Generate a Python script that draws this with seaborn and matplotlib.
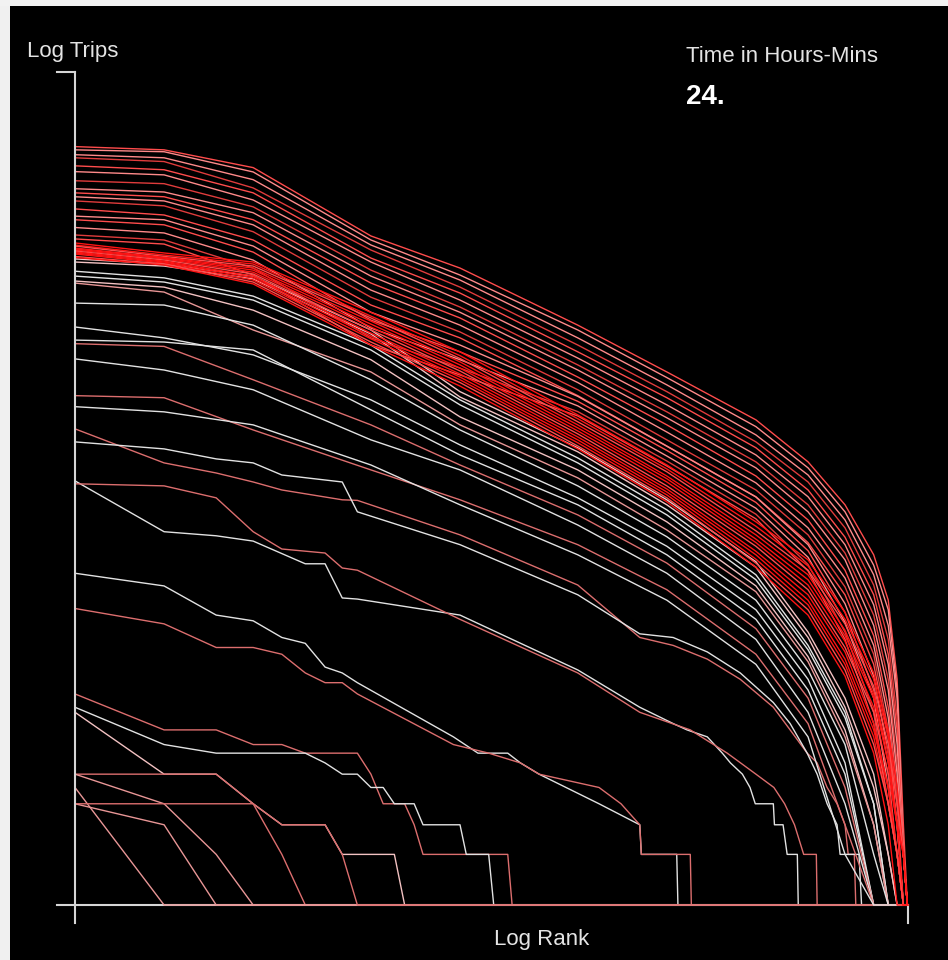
import numpy as np
import pandas as pd
import matplotlib
matplotlib.use("Agg")
import matplotlib.pyplot as plt
import seaborn as sns
from matplotlib.patches import Rectangle

# Zone ranks shared by the busy intervals (zones sorted by trip count)
RANKS = [1, 2, 4, 10, 20, 50, 100, 200, 300, 400, 500, 560, 600, 630, 650]

# Daytime peak intervals: trips per zone at each rank in RANKS
peak_trips = [
    [32400, 31000, 24300, 9530, 6140, 2810, 1480, 768, 432, 240, 121, 65, 22, 3, 1],
    [31000, 30200, 22900, 9020, 5580, 2630, 1370, 700, 398, 218, 105, 57, 19, 2, 1],
    [29000, 27800, 20600, 8420, 5210, 2360, 1240, 625, 361, 195, 92, 46, 17, 2, 1],
    [27800, 26400, 18400, 7860, 4730, 2140, 1130, 568, 328, 175, 80, 38, 13, 2, 1],
    [24900, 23600, 17200, 7040, 4360, 1950, 1040, 524, 294, 154, 70, 31, 11, 2, 1],
    [23000, 22000, 15600, 6670, 3960, 1790, 943, 475, 268, 139, 61, 27, 9, 2, 1],
    [20300, 19500, 14200, 5970, 3600, 1630, 857, 432, 240, 124, 53, 22, 7, 2, 1],
    [18200, 17400, 13100, 5500, 3350, 1520, 790, 398, 218, 113, 46, 19, 6, 2, 1],
    [17200, 16300, 11900, 5000, 3100, 1380, 717, 356, 195, 98, 40, 15, 5, 2, 1],
    [16300, 15400, 11100, 4540, 2810, 1280, 650, 324, 175, 88, 35, 13, 4, 2, 1],
    [15400, 14400, 10100, 4120, 2560, 1160, 584, 294, 159, 78, 31, 11, 4, 1, 1],
    [13800, 12700, 9020, 3700, 2360, 1070, 537, 268, 143, 70, 27, 10, 3, 1, 1],
    [12500, 11900, 8300, 3350, 2140, 1060, 535, 267, 139, 62, 23, 8, 3, 1, 1],
    [11900, 11100, 7640, 3010, 1950, 990, 505, 248, 128, 55, 19, 7, 3, 1, 1],
    [10700, 9930, 6850, 2700, 1750, 930, 468, 229, 117, 48, 17, 5, 2, 1, 1],
    [9660, 9020, 6140, 2360, 1560, 860, 437, 211, 106, 42, 14, 4, 2, 1, 1],
    [9150, 8530, 5580, 2140, 1420, 810, 408, 198, 97, 38, 12, 4, 2, 1, 1],
]
peak_tones = ["scarlet", "rose", "rose", "crimson", "scarlet", "rose",
              "crimson", "rose", "scarlet", "rose", "crimson", "scarlet",
              "rose", "scarlet", "rose", "crimson", "scarlet"]

# Evening intervals, closely bunched
evening_trips = [
    [8660, 7550, 6670, 3350, 1950, 822, 414, 190, 113, 55, 24, 11, 5, 2, 1],
    [8420, 7340, 6490, 3180, 1850, 780, 392, 179, 104, 50, 22, 10, 4, 2, 1],
    [8300, 7200, 6310, 3100, 1780, 748, 377, 168, 98, 47, 20, 9, 4, 2, 1],
    [8080, 7100, 6140, 2970, 1700, 717, 356, 159, 92, 43, 18, 8, 3, 2, 1],
    [7970, 7040, 5970, 2850, 1630, 688, 343, 150, 86, 40, 17, 7, 3, 2, 1],
    [7860, 6960, 5800, 2740, 1560, 660, 328, 143, 80, 37, 15, 6, 3, 1, 1],
    [7750, 6850, 5660, 2630, 1500, 634, 311, 136, 75, 34, 14, 6, 2, 1, 1],
    [7650, 6750, 5500, 2520, 1440, 608, 298, 127, 70, 32, 12, 5, 2, 1, 1],
    [7550, 6670, 5370, 2420, 1380, 584, 286, 121, 65, 29, 11, 5, 2, 1, 1],
    [7440, 6580, 5210, 2330, 1330, 561, 275, 114, 61, 27, 10, 4, 2, 1, 1],
    [7200, 6490, 5070, 2230, 1280, 537, 264, 108, 57, 25, 9, 4, 2, 1, 1],
    [7100, 6400, 4940, 2140, 1220, 516, 250, 102, 53, 23, 8, 3, 1, 1, 1],
]
evening_tones = ["red", "red", "scarlet", "red", "red", "red",
                 "scarlet", "red", "red", "red", "scarlet", "red"]

# Shoulder intervals (early morning / late evening)
shoulder_trips = [
    [6960, 6490, 5500, 2630, 1130, 524, 257, 110, 42, 17, 6, 2, 1, 1, 1],
    [6670, 6310, 5290, 2490, 1050, 496, 240, 102, 39, 15, 5, 2, 1, 1, 1],
    [5880, 5370, 4180, 2140, 1010, 456, 224, 92, 35, 14, 4, 1, 1, 1, 1],
    [5500, 5070, 3960, 2000, 943, 426, 209, 86, 33, 13, 4, 1, 1, 1, 1],
    [5140, 4730, 3450, 1750, 800, 387, 190, 79, 30, 11, 3, 1, 1, 1, 1],
    [5000, 4420, 2630, 1480, 717, 347, 170, 73, 28, 10, 3, 1, 1, 1, 1],
    [3800, 3700, 2810, 1330, 669, 311, 155, 65, 25, 9, 2, 1, 1, 1, 1],
    [2740, 2360, 1870, 1010, 545, 264, 136, 57, 22, 7, 1, 1, 1, 1, 1],
    [2290, 2230, 2000, 881, 475, 240, 121, 50, 19, 6, 1, 1, 1, 1, 1],
    [2180, 2100, 1330, 717, 414, 209, 108, 44, 17, 5, 1, 1, 1, 1, 1],
    [1770, 1520, 1160, 584, 387, 182, 94, 38, 14, 4, 1, 1, 1, 1, 1],
    [1070, 1040, 669, 387, 257, 139, 75, 31, 12, 3, 1, 1, 1, 1, 1],
    [920, 857, 717, 414, 240, 121, 65, 27, 10, 2, 1, 1, 1, 1, 1],
]
shoulder_tones = ["blush", "blush", "white", "white", "blush", "pink", "white",
                  "white", "white", "salmon", "white", "salmon", "white"]

# Night intervals: few trips, so each has its own rank breakpoints
night_ranks = [
    [1, 2, 3, 4, 5, 8, 9, 20, 50, 81, 105, 137, 177, 229, 261, 298, 322, 348, 376, 400, 410, 430, 435, 650],
    [1, 2, 3, 4, 5, 8, 9, 20, 50, 81, 105, 137, 177, 229, 261, 298, 322, 348, 376, 385, 446, 455, 650],
    [1, 2, 3, 4, 6, 7, 8, 9, 20, 50, 81, 105, 117, 137, 154, 164, 180, 191, 199, 229, 231, 247, 255, 276, 278, 650],
    [1, 2, 3, 4, 5, 7, 8, 9, 20, 50, 81, 120, 160, 200, 230, 250, 270, 290, 320, 322, 650],
    [1, 2, 3, 4, 5, 6, 7, 8, 9, 19, 23, 29, 32, 37, 59, 81, 82, 108, 109, 650],
    [1, 2, 3, 4, 5, 6, 7, 8, 9, 19, 25, 32, 37, 59, 70, 81, 82, 120, 121, 650],
    [1, 2, 3, 4, 5, 6, 9, 10, 11, 13, 14, 15, 29, 30, 650],
    [1, 2, 3, 6, 7, 8, 9, 10, 11, 12, 14, 15, 20, 21, 25, 26, 650],
    [1, 2, 3, 4, 5, 7, 8, 12, 13, 650],
    [1, 3, 4, 5, 6, 650],
    [1, 2, 3, 4, 650],
    [1, 2, 650],
    [1, 2, 3, 650],
    [1, 4, 5, 7, 8, 9, 650],
]
night_trips = [
    [679, 426, 371, 328, 294, 257, 255, 159, 80, 39, 35, 29, 22, 15, 11, 8, 7, 5, 4, 3, 2, 2, 1, 1],
    [568, 516, 450, 426, 361, 328, 218, 139, 70, 41, 39, 32, 24, 16, 12, 8, 6, 4, 3, 2, 2, 1, 1],
    [333, 166, 157, 146, 107, 107, 67, 66, 53, 25, 15, 12, 11, 10, 8, 7, 6, 5, 4, 4, 3, 3, 2, 2, 1, 1],
    [320, 311, 264, 166, 131, 124, 101, 98, 50, 24, 14, 11, 8, 6, 5, 4, 3, 2, 2, 1, 1],
    [94, 79, 53, 49, 39, 36, 26, 24, 21, 10, 8, 8, 7, 6, 4, 3, 2, 2, 1, 1],
    [58, 47, 34, 34, 31, 24, 21, 21, 18, 9, 8, 7, 6, 5, 4, 3, 2, 2, 1, 1],
    [18, 11, 11, 9, 9, 8, 8, 6, 4, 4, 3, 2, 2, 1, 1],
    [15, 9, 8, 8, 7, 6, 6, 5, 5, 4, 4, 3, 3, 2, 2, 1, 1],
    [14, 6, 6, 4, 3, 3, 2, 2, 1, 1],
    [6, 6, 4, 2, 1, 1],
    [6, 4, 2, 1, 1],
    [5, 1, 1],
    [4, 3, 1, 1],
    [4, 4, 3, 3, 2, 1, 1],
]
night_tones = ["salmon", "white", "white", "salmon", "white", "salmon", "salmon",
               "white", "blush", "salmon", "pink", "pink", "pink", "salmon"]

PALETTE = {
    "red": "#ff1414",
    "scarlet": "#ff4c4c",
    "rose": "#ff8a8a",
    "crimson": "#e03c3c",
    "salmon": "#dc6e6e",
    "pink": "#e89696",
    "blush": "#f3c2c2",
    "white": "#e2e2e2",
}

# ---- assemble long-form table -------------------------------------------
frames, colours, order = [], {}, []


def collect(group, ranks_list, trips_list, tones):
    for i, (ranks, trips) in enumerate(zip(ranks_list, trips_list)):
        name = f"{group}-{i:02d}"
        frames.append(pd.DataFrame({
            "curve": name,
            "log_rank": np.log10(np.asarray(ranks, dtype=float)),
            "log_trips": np.log10(np.asarray(trips, dtype=float)),
        }))
        colours[name] = PALETTE[tones[i]]
        order.append(name)


collect("night", night_ranks, night_trips, night_tones)
collect("shoulder", [RANKS] * len(shoulder_trips), shoulder_trips, shoulder_tones)
collect("peak", [RANKS] * len(peak_trips), peak_trips, peak_tones)
collect("evening", [RANKS] * len(evening_trips), evening_trips, evening_tones)
df = pd.concat(frames, ignore_index=True)

# ---- figure --------------------------------------------------------------
W, H = 948, 960
fig = plt.figure(figsize=(W / 100, H / 100), dpi=100, facecolor="black")
# light frame strips along the left and top edges
fig.patches.append(Rectangle((0, 0), 10 / W, 1, transform=fig.transFigure,
                             facecolor="#f0f0f0", edgecolor="none", zorder=-5))
fig.patches.append(Rectangle((0, 1 - 6 / H), 1, 6 / H, transform=fig.transFigure,
                             facecolor="#f2f2f2", edgecolor="none", zorder=-5))

ax = fig.add_axes([75 / W, (H - 905) / H, 833 / W, 833 / H])
ax.set_facecolor("black")
ax.patch.set_alpha(0)

sns.lineplot(data=df, x="log_rank", y="log_trips", hue="curve",
             hue_order=order, palette=colours, estimator=None, sort=False,
             legend=False, linewidth=1.0, ax=ax)
for ln in ax.lines:
    ln.set_clip_on(False)
    ln.set_zorder(2)

ax.set_xlim(0, np.log10(653))
ax.set_ylim(0, np.log10(90000))
ax.set_xticks([])
ax.set_yticks([])
ax.set_xlabel("")
ax.set_ylabel("")
for s in ax.spines.values():
    s.set_visible(False)

axis_col = "#d6d6d6"
ext = 18 / 833
ax.plot([-ext, 1], [0, 0], transform=ax.transAxes, color=axis_col, lw=1.5,
        clip_on=False, zorder=1.5)
ax.plot([1, 1], [0, -ext], transform=ax.transAxes, color=axis_col, lw=1.5,
        clip_on=False, zorder=1.5)
ax.plot([0, 0], [-ext, 1], transform=ax.transAxes, color=axis_col, lw=1.5,
        clip_on=False, zorder=3)
ax.plot([-ext, 0], [1, 1], transform=ax.transAxes, color=axis_col, lw=1.5,
        clip_on=False, zorder=3)

font = "Liberation Sans"
txt_col = "#e4e4e4"
fig.text(27 / W, 1 - 52 / H, "Log Trips", fontsize=16, family=font,
         color=txt_col, ha="left", va="center")
fig.text(542 / W, 1 - 940 / H, "Log Rank", fontsize=16, family=font,
         color=txt_col, ha="center", va="center")
fig.text(686 / W, 1 - 57 / H, "Time in Hours-Mins", fontsize=16, family=font,
         color=txt_col, ha="left", va="center")
fig.text(686 / W, 1 - 97 / H, "24.", fontsize=20, family=font,
         fontweight="bold", color="white", ha="left", va="center")

fig.savefig("out.png", dpi=100, facecolor=fig.get_facecolor())
